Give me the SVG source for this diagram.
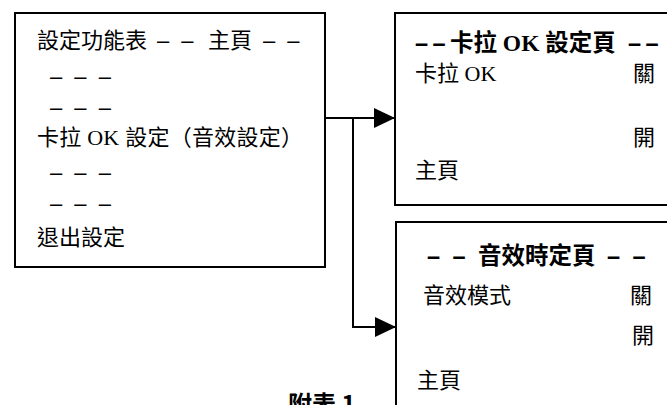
<svg xmlns="http://www.w3.org/2000/svg" width="667" height="405" viewBox="0 0 667 405">
<style>
.box{fill:#fff;stroke:#000;stroke-width:2}
.t{font-family:"Liberation Serif","Noto Sans CJK TC",serif;font-size:22px;fill:#000}
.h{font-size:23.5px;font-weight:bold}
.d{font-family:"Liberation Sans",sans-serif;word-spacing:6px}
.cap{font-family:"Noto Sans CJK TC","Liberation Sans",sans-serif;font-size:24px;font-weight:bold;fill:#000}
.c{fill:none;stroke:#000;stroke-width:2}
</style>
<defs>
<marker id="ah" markerUnits="userSpaceOnUse" viewBox="0 0 21 20" refX="21" refY="10" markerWidth="21" markerHeight="20" orient="auto">
<path d="M0,0 L21,10 L0,20 z" fill="#000"/>
</marker>
</defs>
<rect width="667" height="405" fill="#fff"/>
<g id="menu">
<rect class="box" x="15" y="13" width="310" height="254"/>
<text class="t" x="37" y="48">設定功能表 <tspan class="d" x="157">– –</tspan> <tspan x="208">主頁</tspan> <tspan class="d" x="263">– –</tspan></text>
<text class="t d" x="50" y="84">– – –</text>
<text class="t d" x="50" y="115">– – –</text>
<text class="t" x="37" y="145" textLength="266" lengthAdjust="spacing">卡拉 OK 設定（音效設定）</text>
<text class="t d" x="50" y="180">– – –</text>
<text class="t d" x="50" y="211">– – –</text>
<text class="t" x="37" y="245">退出設定</text>
</g>
<g id="karaoke">
<rect class="box" x="395" y="13" width="285" height="192"/>
<text class="t h" x="415" y="51"><tspan class="d" style="word-spacing:-2px">– –</tspan><tspan x="450">卡拉 OK 設定頁</tspan> <tspan class="d" x="628" style="word-spacing:-2px">– –</tspan></text>
<text class="t" x="415" y="81">卡拉 OK</text>
<text class="t" x="633" y="81">關</text>
<text class="t" x="633" y="145">開</text>
<text class="t" x="415" y="178">主頁</text>
</g>
<g id="sound">
<rect class="box" x="396" y="222" width="285" height="200"/>
<text class="t h" x="427" y="264"><tspan class="d">– –</tspan> <tspan x="478">音效時定頁</tspan> <tspan class="d" x="607">– –</tspan></text>
<text class="t" x="423" y="303">音效模式</text>
<text class="t" x="630" y="303">關</text>
<text class="t" x="632" y="343">開</text>
<text class="t" x="417" y="388">主頁</text>
</g>
<g id="connectors">
<path class="c" d="M325,118 H395" marker-end="url(#ah)"/>
<path class="c" d="M353,118 V327 H396" marker-end="url(#ah)"/>
</g>
<g id="caption">
<text class="cap" x="288" y="413">附表 1</text>
</g>
</svg>
